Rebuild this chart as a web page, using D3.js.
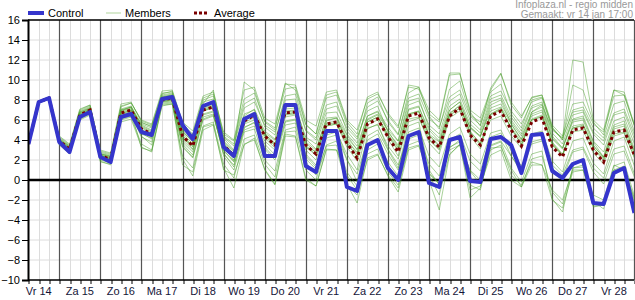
<!DOCTYPE html>
<html>
<head>
<meta charset="utf-8">
<script src="https://cdn.jsdelivr.net/npm/d3@7"></script>
<style>
  body { margin: 0; background: #fff; }
  text { font-family: "Liberation Sans", Arial, sans-serif; }
</style>
</head>
<body>
<div id="graph"></div>
<script>
// 6-hourly steps, first point at vr 14 06:00 (hours since vr 14 00:00)
var dayLabels = ['Vr 14', 'Za 15', 'Zo 16', 'Ma 17', 'Di 18', 'Wo 19', 'Do 20', 'Vr 21',
                 'Za 22', 'Zo 23', 'Ma 24', 'Di 25', 'Wo 26', 'Do 27', 'Vr 28'];
var yTicks = [-10, -8, -6, -4, -2, 0, 2, 4, 6, 8, 10, 12, 14, 16];

var control = [3.6,7.8,8.2,3.8, 2.8,6.3,6.8,2.3, 1.8,6.3,6.6,4.8, 4.5,8.1,8.3,5.5, 4.1,7.4,7.8,3.3,
               2.4,6.1,6.6,2.4, 2.4,7.5,7.5,1.4, 0.8,4.9,4.9,-0.7, -1.1,3.5,4.0,1.2, 0.0,4.4,4.8,-0.3,
               -0.7,4.0,4.3,-0.1, -0.2,4.1,4.3,3.5, 0.7,4.5,4.6,0.9, 0.2,1.6,2.0,-2.3, -2.4,0.7,1.2,-3.3];

var average = [3.6,7.8,8.2,3.9, 3.1,6.5,7.0,2.4, 2.1,6.7,7.0,5.1, 4.6,8.0,8.2,4.4, 3.4,7.0,7.3,3.5,
               2.4,5.9,6.5,4.4, 3.5,6.7,6.8,3.5, 2.6,5.6,5.8,3.7, 2.2,5.6,6.1,4.3, 2.8,6.4,6.7,4.2,
               3.3,6.4,7.2,4.5, 3.5,6.4,6.9,5.0, 3.4,5.8,6.2,3.3, 2.3,5.0,5.2,3.0, 1.8,4.8,5.0,2.5];

var members = [
  [3.6,7.9,8.3,4.1, 3.3,6.8,7.3,2.7, 2.4,7.1,7.4,5.6, 5.2,8.4,8.6,5.1, 4.2,7.8,8.1,4.3, 3.4,7.2,7.8,5.5, 4.8,8.0,8.1,4.9, 4.0,7.1,7.4,5.2, 4.1,7.3,7.9,6.0, 4.6,8.2,8.6,6.1, 5.3,8.3,9.0,6.4, 5.5,8.4,8.9,6.9, 5.6,7.8,8.2,5.1, 4.2,6.8,7.0,4.8, 3.9,6.7,7.1,4.5],
  [3.6,7.7,8.1,3.7, 2.9,6.3,6.8,2.1, 1.8,6.4,6.7,4.7, 4.1,7.8,7.9,3.6, 2.5,6.3,6.6,2.6, 1.5,5.0,5.4,3.1, 2.0,5.5,5.7,2.1, 1.1,4.2,4.5,2.0, 0.6,4.0,4.6,2.6, 1.0,4.8,5.2,2.4, 1.3,4.6,5.3,2.6, 1.6,4.7,5.0,2.9, 1.4,3.8,4.1,1.2, 0.1,2.8,3.1,0.8, -0.4,2.6,2.9,0.3],
  [3.7,7.8,8.2,4.3, 3.5,6.9,7.4,2.9, 2.6,7.4,7.7,6.0, 5.6,8.9,9.0,5.8, 4.9,8.4,8.8,4.6, 3.9,8.1,8.7,5.9, 5.2,9.1,9.3,5.6, 4.6,8.2,8.5,5.5, 4.3,6.9,7.4,4.8, 3.5,7.1,7.4,4.6, 3.8,7.0,7.8,5.2, 4.3,7.2,7.6,5.8, 4.4,6.6,7.0,4.2, 3.2,6.1,6.4,3.9, 2.8,5.9,6.3,3.6],
  [3.5,7.7,8.1,3.5, 2.6,6.1,6.6,1.9, 1.5,6.0,6.3,3.6, 3.0,7.5,7.6,2.4, 1.2,5.4,5.8,1.6, 0.2,4.1,4.5,1.6, 0.3,4.8,4.9,1.0, 0.0,3.5,3.9,0.8, -0.6,3.0,3.6,1.8, 0.4,4.1,4.5,1.6, 0.4,4.0,4.6,1.9, 0.9,4.3,4.7,2.4, 1.0,4.6,4.9,1.9, 0.8,3.9,4.2,1.7, 0.6,3.9,4.3,1.4],
  [3.6,7.8,8.2,4.0, 3.2,6.6,7.1,2.5, 2.2,6.9,7.2,5.4, 4.9,8.2,8.4,4.9, 3.8,7.2,7.5,3.9, 2.9,6.4,7.1,4.9, 4.1,7.3,7.4,4.1, 3.1,6.2,6.3,4.5, 3.0,6.4,6.9,5.3, 3.9,7.5,7.9,5.5, 4.6,7.9,8.6,6.0, 5.0,8.1,8.5,6.3, 4.9,7.4,7.8,4.7, 3.6,6.5,6.8,4.6, 3.5,6.5,6.8,4.1],
  [3.6,7.8,8.1,3.8, 3.0,6.4,6.9,2.3, 2.0,6.5,6.8,4.4, 3.5,7.9,8.0,2.1, 0.4,5.0,5.5,1.2, -0.8,3.6,4.0,1.1, -0.4,4.6,4.4,0.2, -0.6,3.1,3.0,0.5, -1.0,2.6,3.1,0.8, -0.5,3.5,3.9,0.7, -0.3,3.3,3.8,0.9, -0.4,3.2,3.3,1.0, -0.7,2.1,2.4,-1.2, -2.4,1.2,1.5,-2.1, -2.9,1.0,1.4,-2.0],
  [3.6,7.9,8.2,4.1, 3.4,7.0,7.5,2.8, 2.5,7.3,7.7,5.9, 5.5,8.7,8.8,5.4, 4.5,8.2,8.6,4.8, 4.0,9.0,9.3,6.2, 5.6,9.6,9.5,6.0, 5.4,8.8,9.0,6.0, 5.0,8.1,8.6,6.7, 5.4,9.3,9.1,6.6, 5.8,10.5,10.6,7.0, 6.2,9.0,10.6,7.8, 6.4,8.2,8.5,5.5, 4.4,7.6,7.8,5.6, 4.8,8.4,8.5,5.4],
  [3.6,7.8,8.2,3.9, 3.1,6.5,7.0,2.4, 2.1,6.8,7.1,5.2, 4.7,8.1,8.3,4.5, 3.3,6.9,7.3,3.4, 2.2,5.7,6.3,4.6, 3.7,6.8,6.9,3.4, 2.4,5.4,5.6,3.6, 2.4,6.0,6.5,4.1, 2.4,6.1,6.3,3.7, 2.6,6.2,6.9,4.4, 3.1,6.6,7.1,5.2, 3.5,6.0,6.4,3.7, 2.5,5.4,5.6,3.2, 2.1,5.1,5.4,2.8],
  [3.6,7.7,8.2,3.7, 2.8,6.2,6.7,2.2, 1.9,6.3,6.6,4.9, 4.4,7.9,8.1,4.0, 3.0,6.6,6.9,3.0, 1.8,5.2,5.8,3.6, 2.5,5.9,6.1,2.6, 1.5,4.8,5.0,2.1, -0.2,4.4,5.0,3.0, 1.2,5.4,5.8,1.0, -0.5,3.2,4.0,-0.5, -1.0,3.4,3.8,1.2, -0.2,2.6,2.9,-1.9, -3.2,1.2,1.3,-2.6, -2.5,1.4,1.8,-1.6],
  [3.6,7.8,8.3,4.0, 3.2,6.7,7.1,2.6, 2.3,7.0,7.3,5.3, 4.8,8.3,8.5,4.7, 3.6,7.3,7.6,3.7, 2.6,6.2,6.8,4.2, 3.2,6.5,6.6,3.0, 2.0,5.9,6.2,3.9, 2.8,5.8,6.3,4.6, 3.2,6.6,6.9,4.5, 3.5,6.7,7.4,4.8, 3.7,6.0,6.4,4.4, 3.2,6.8,7.5,5.0, 4.2,12.0,11.8,6.0, 5.0,9.0,8.5,5.5],
  [3.6,7.8,8.2,3.6, 2.7,6.0,6.5,1.8, 1.6,5.8,6.1,3.3, 2.8,7.4,7.6,3.3, 2.2,6.0,6.4,2.9, 1.9,5.6,6.0,3.9, 3.0,6.3,6.5,3.8, 3.0,6.0,6.2,4.2, 3.1,5.2,5.5,3.4, 2.1,5.8,6.2,4.0, 3.0,6.4,7.2,5.3, 4.4,7.5,8.0,5.6, 4.1,6.8,7.3,4.1, 3.1,5.8,6.0,3.5, 2.2,4.6,4.8,2.2],
  [3.7,7.9,8.3,4.2, 3.4,6.8,7.2,2.6, 2.3,6.9,7.3,5.5, 5.0,8.5,8.7,4.8, 3.9,7.5,7.7,3.8, 2.8,6.6,7.0,4.5, 3.5,7.1,7.2,4.3, 3.6,6.7,6.8,4.6, 3.4,6.4,6.8,5.0, 3.9,7.9,8.2,5.2, 4.2,7.4,8.1,5.6, 4.7,7.8,8.2,6.0, 4.6,7.2,7.6,4.4, 3.2,6.0,6.2,3.8, 2.3,5.5,5.9,3.1],
  [3.6,7.7,8.1,3.8, 2.9,6.4,6.8,2.2, 1.9,6.2,6.5,4.3, 3.8,7.7,7.8,3.8, 2.8,6.5,6.8,2.4, 1.0,4.8,5.1,2.0, 0.9,5.0,5.3,1.8, 0.5,3.4,3.5,-0.4, -2.3,2.2,2.6,0.4, -1.2,3.0,3.4,0.5, -1.5,2.6,3.5,1.0, 0.0,3.5,3.9,2.4, 0.8,3.6,3.9,1.5, 0.5,3.0,3.3,1.2, 0.2,3.1,3.4,0.6],
  [3.6,7.8,8.2,4.4, 3.6,7.1,7.5,3.0, 2.7,7.6,7.8,5.8, 5.3,8.6,8.9,5.6, 4.6,8.0,8.4,4.4, 3.6,7.6,8.2,5.3, 4.5,8.4,8.6,5.0, 4.2,7.5,7.8,4.9, 3.7,7.7,8.3,5.8, 4.5,8.7,9.3,6.4, 5.1,9.1,9.9,6.5, 5.8,8.8,9.6,6.6, 5.2,8.0,8.3,5.2, 4.0,7.0,7.3,5.2, 4.2,7.6,7.9,4.8],
  [3.6,7.8,8.2,3.7, 2.8,6.3,6.7,2.0, 1.7,6.1,6.4,4.6, 4.2,7.8,8.0,3.4, 2.3,6.1,6.5,2.7, 1.3,5.3,5.7,3.3, 2.2,5.8,6.0,2.4, 1.3,4.5,4.8,2.6, 1.0,5.1,5.6,3.1, 1.5,4.4,4.6,0.0, -3.0,2.5,3.6,-1.8, -0.8,3.0,3.5,0.5, -0.5,1.8,1.5,-1.0, -2.0,1.0,1.0,-1.5, -2.0,1.5,1.0,-1.8],
  [3.6,7.8,8.2,3.9, 3.0,6.6,7.0,2.5, 2.1,6.7,7.0,5.0, 4.5,8.0,8.2,4.3, 3.1,7.0,7.3,3.3, 2.0,5.9,6.6,4.6, 3.6,6.9,7.0,3.7, 2.7,5.7,5.9,4.1, 2.6,6.1,6.6,4.9, 3.3,7.0,7.3,5.0, 3.9,7.0,7.8,5.3, 4.4,6.9,7.3,5.6, 4.0,6.4,6.8,3.8, 2.6,5.2,5.5,3.4, 2.3,5.3,5.6,2.9],
  [3.6,7.8,8.2,3.8, 3.0,6.5,7.0,2.4, 2.2,6.6,6.9,5.7, 5.4,8.2,8.4,4.1, 3.5,7.1,7.4,3.5, 2.5,6.0,6.5,4.7, 4.0,6.6,6.8,3.2, 2.9,5.4,5.6,3.3, 1.9,5.5,6.0,4.4, 2.9,6.5,6.8,4.1, 3.1,6.5,7.2,4.9, 3.6,6.5,7.0,5.3, 3.8,6.1,6.5,3.6, 2.5,4.8,5.0,2.7, 1.6,4.4,4.7,2.3],
  [3.6,7.8,8.2,3.9, 3.1,6.4,6.9,2.5, 2.0,6.6,7.0,4.8, 4.3,8.0,8.1,4.4, 3.4,6.9,7.2,3.6, 2.6,6.1,6.7,4.4, 3.4,6.6,6.7,3.5, 2.5,5.6,5.7,3.8, 2.3,5.8,6.3,4.5, 3.0,6.6,6.9,4.5, 3.3,6.6,7.5,4.6, 3.5,6.6,7.2,5.1, 3.6,6.0,6.3,3.5, 2.4,5.2,5.4,3.2, 1.9,4.8,5.1,2.6],
  [3.6,7.8,8.2,4.0, 3.3,6.7,7.2,2.6, 2.4,7.0,7.3,5.0, 4.6,8.3,8.5,5.0, 4.0,7.6,9.0,4.2, 3.0,9.8,9.0,5.8, 5.0,9.7,9.0,5.5, 4.6,8.5,8.8,5.8, 4.6,8.3,8.8,6.5, 5.2,9.5,9.3,7.0, 6.0,10.7,10.7,6.8, 5.4,9.2,10.7,7.5, 6.2,8.3,8.5,5.3, 4.0,9.5,9.0,5.8, 4.5,9.0,8.8,5.5],
  [3.6,7.8,8.2,3.8, 2.9,6.3,6.8,2.3, 1.9,6.4,6.8,3.2, 2.9,7.6,7.7,1.5, 0.8,5.3,5.6,1.0, 0.5,3.5,4.2,1.0, -0.5,4.4,4.3,0.0, -0.6,3.0,3.0,-0.5, -1.5,2.0,2.5,0.5, -0.8,3.2,3.5,0.6, -0.4,3.0,3.5,-1.0, -0.6,2.5,3.0,0.0, -0.7,1.5,1.5,-2.0, -2.8,0.8,1.0,-2.7, -2.5,1.0,1.0,-2.2]
];

var width = 635;
var height = 300;
var plotLeft = 28, plotRight = 634, plotTop = 20, plotBottom = 280;

var svg = d3.select('#graph')
  .append('svg')
  .attr('width', width)
  .attr('height', height);

// hours since vr 14 00:00 -> px (41px per day)
var x = d3.scaleLinear().domain([0, 360]).range([18.2, 634.4]);
var y = d3.scaleLinear().domain([-10, 16]).range([plotBottom, plotTop]);
var hour = function(d, i) { return x(6 + 6 * i); };

svg.append('clipPath').attr('id', 'plot')
  .append('rect')
  .attr('x', plotLeft).attr('y', plotTop)
  .attr('width', plotRight - plotLeft).attr('height', plotBottom - plotTop);

// grid
svg.append('g').selectAll('line')
  .data(yTicks)
  .enter().append('line')
  .attr('x1', plotLeft).attr('x2', plotRight)
  .attr('y1', function(d) { return y(d); })
  .attr('y2', function(d) { return y(d); })
  .attr('stroke', '#dcdcdc');

var hours = d3.range(6, 361, 6);
svg.append('g').selectAll('line')
  .data(hours)
  .enter().append('line')
  .attr('x1', function(d) { return Math.round(x(d)) + 0.5; })
  .attr('x2', function(d) { return Math.round(x(d)) + 0.5; })
  .attr('y1', plotTop).attr('y2', plotBottom)
  .attr('stroke', function(d) { return d % 24 == 0 ? '#555' : '#dcdcdc'; })
  .attr('stroke-width', function(d) { return d % 24 == 0 ? 1.2 : 1; });

// x axis ticks
svg.append('g')
  .attr('transform', 'translate(0,' + plotBottom + ')')
  .call(d3.axisBottom(x).tickValues(hours).tickSize(4).tickFormat(''))
  .call(function(g) { g.select('.domain').remove(); })
  .selectAll('line').attr('stroke', '#000')
  .attr('transform', function(d) { return 'translate(' + (Math.round(x(d)) + 0.5 - x(d)) + ',0)'; });

// day labels
svg.append('g').selectAll('text')
  .data(dayLabels)
  .enter().append('text')
  .attr('x', function(d, i) { return x(12 + 24 * i); })
  .attr('y', 295)
  .attr('text-anchor', 'middle')
  .attr('font-size', '11px')
  .attr('fill', '#141438')
  .text(function(d) { return d; });

// zero line
svg.append('line')
  .attr('x1', plotLeft).attr('x2', plotRight)
  .attr('y1', y(0)).attr('y2', y(0))
  .attr('stroke', '#000').attr('stroke-width', 2.5);

var line = d3.line().x(hour).y(function(d) { return y(d); });
var plot = svg.append('g').attr('clip-path', 'url(#plot)');

plot.selectAll('path.member')
  .data(members)
  .enter().append('path')
  .attr('class', 'member')
  .attr('d', line)
  .attr('fill', 'none')
  .attr('stroke', '#4a9e2a')
  .attr('stroke-opacity', 0.48)
  .attr('stroke-width', 1);

plot.append('path')
  .datum(average)
  .attr('d', line)
  .attr('fill', 'none')
  .attr('stroke', '#7a0000')
  .attr('stroke-width', 3)
  .attr('stroke-dasharray', '3,3');

plot.append('path')
  .datum(control)
  .attr('d', line)
  .attr('fill', 'none')
  .attr('stroke', '#3535cc')
  .attr('stroke-width', 4)
  .attr('stroke-linejoin', 'round');

// frame lines
svg.append('line')
  .attr('x1', plotLeft).attr('x2', plotRight)
  .attr('y1', plotTop).attr('y2', plotTop)
  .attr('stroke', '#000').attr('stroke-width', 1.5);
svg.append('line')
  .attr('x1', plotLeft).attr('x2', plotRight)
  .attr('y1', plotBottom).attr('y2', plotBottom)
  .attr('stroke', '#000').attr('stroke-width', 1.5);

// y axis
var yAxis = svg.append('g')
  .attr('transform', 'translate(' + plotLeft + ',0)')
  .call(d3.axisLeft(y).tickValues(yTicks).tickSize(6).tickPadding(2));
yAxis.select('.domain').attr('stroke', '#000').attr('stroke-width', 2);
yAxis.selectAll('text').attr('font-size', '11px').attr('fill', '#000')
  .style('font-family', '"Liberation Sans", Arial, sans-serif');

// legend
var legend = svg.append('g').attr('font-size', '11px').attr('fill', '#000');
legend.append('line').attr('x1', 28).attr('x2', 44).attr('y1', 13).attr('y2', 13)
  .attr('stroke', '#3535cc').attr('stroke-width', 4);
legend.append('text').attr('x', 48).attr('y', 17).text('Control');
legend.append('line').attr('x1', 106).attr('x2', 121).attr('y1', 13).attr('y2', 13)
  .attr('stroke', '#bfdcae').attr('stroke-width', 1.2);
legend.append('text').attr('x', 125).attr('y', 17).text('Members');
legend.append('line').attr('x1', 194).attr('x2', 209).attr('y1', 13).attr('y2', 13)
  .attr('stroke', '#7a0000').attr('stroke-width', 3).attr('stroke-dasharray', '3,2');
legend.append('text').attr('x', 214).attr('y', 17).text('Average');

// source
svg.append('text').attr('x', 633).attr('y', 8).attr('text-anchor', 'end')
  .attr('font-size', '10px').attr('fill', '#999')
  .text('Infoplaza.nl - regio midden');
svg.append('text').attr('x', 633).attr('y', 18).attr('text-anchor', 'end')
  .attr('font-size', '10px').attr('fill', '#999')
  .text('Gemaakt: vr 14 jan 17:00');
</script>
</body>
</html>
